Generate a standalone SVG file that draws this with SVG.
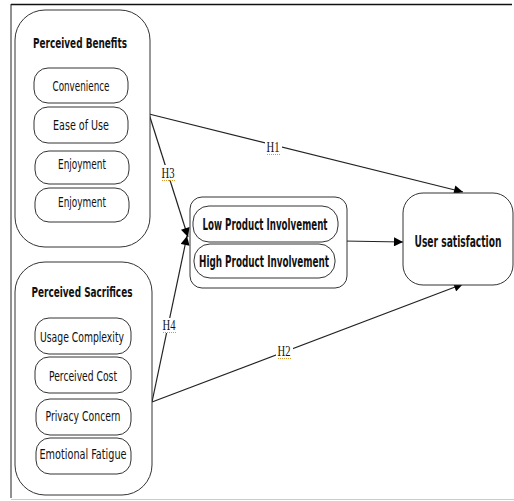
<svg xmlns="http://www.w3.org/2000/svg" width="514" height="501" viewBox="0 0 514 501">
<style>
.box{fill:#fff;stroke:#333;stroke-width:1}
.t{font-family:"DejaVu Sans Condensed","DejaVu Sans","Liberation Sans",sans-serif;font-size:14px;fill:#111;text-anchor:middle}
.b{font-weight:bold;font-size:13.5px}
.m{font-size:15px}
.h{font-family:"Liberation Serif",serif;font-size:14px;fill:#111;text-anchor:middle}
.conn{stroke:#222;stroke-width:1.2;fill:none}
.ul{stroke:#d89a30;stroke-width:1;stroke-dasharray:1 1}
.lblbg{fill:#fff}
</style>
<defs>
<marker id="arr" viewBox="0 0 10 10" refX="10" refY="5" markerWidth="10" markerHeight="9" markerUnits="userSpaceOnUse" orient="auto">
<path d="M0,0 L10,5 L0,10 z" fill="#000"/>
</marker>
</defs>
<rect width="514" height="501" fill="#fff"/>
<g id="frame">
<line x1="11" y1="4.5" x2="512" y2="4.5" stroke="#111" stroke-width="1.5"/>
<line x1="11" y1="4" x2="11" y2="498" stroke="#222" stroke-width="1"/>
<line x1="11" y1="499.5" x2="514" y2="499.5" stroke="#ccc" stroke-width="1"/>
</g>
<g id="connectors">
<line class="conn" x1="149" y1="114" x2="463" y2="192" marker-end="url(#arr)"/>
<line class="conn" x1="152" y1="402" x2="463" y2="284" marker-end="url(#arr)"/>
<line class="conn" x1="149" y1="114" x2="188" y2="237" marker-end="url(#arr)"/>
<line class="conn" x1="152" y1="402" x2="187" y2="236" marker-end="url(#arr)"/>
<line class="conn" x1="343" y1="241" x2="403" y2="242" marker-end="url(#arr)"/>
<rect class="lblbg" x="265" y="140" width="17" height="15"/>
<rect class="lblbg" x="276" y="343" width="17" height="15"/>
<rect class="lblbg" x="160" y="165" width="16" height="15"/>
<rect class="lblbg" x="161" y="318" width="16" height="15"/>
<text class="h" x="273" y="152" textLength="13" lengthAdjust="spacingAndGlyphs">H1</text>
<text class="h" x="284" y="356" textLength="13" lengthAdjust="spacingAndGlyphs">H2</text>
<text class="h" x="168" y="178" textLength="13" lengthAdjust="spacingAndGlyphs">H3</text>
<text class="h" x="169" y="330" textLength="13" lengthAdjust="spacingAndGlyphs">H4</text>
<line class="ul" x1="267" y1="154.5" x2="280" y2="154.5"/>
<line class="ul" x1="278" y1="358.5" x2="291" y2="358.5"/>
<line class="ul" x1="162" y1="180.5" x2="175" y2="180.5"/>
<line class="ul" x1="163" y1="332.5" x2="176" y2="332.5"/>
</g>
<g id="benefits">
<rect class="box" x="15" y="10" width="135" height="237" rx="30"/>
<text class="t b" x="80" y="48" textLength="94" lengthAdjust="spacingAndGlyphs">Perceived Benefits</text>
<rect class="box" x="34" y="68" width="94" height="35" rx="14"/>
<text class="t" x="81" y="91" textLength="57" lengthAdjust="spacingAndGlyphs">Convenience</text>
<rect class="box" x="34" y="107" width="94" height="36" rx="14"/>
<text class="t" x="81" y="130" textLength="56" lengthAdjust="spacingAndGlyphs">Ease of Use</text>
<rect class="box" x="35" y="151" width="94" height="33" rx="14"/>
<text class="t" x="82" y="169" textLength="48" lengthAdjust="spacingAndGlyphs">Enjoyment</text>
<rect class="box" x="35" y="188" width="94" height="34" rx="14"/>
<text class="t" x="82" y="207" textLength="48" lengthAdjust="spacingAndGlyphs">Enjoyment</text>
</g>
<g id="sacrifices">
<rect class="box" x="15" y="262" width="137" height="233" rx="30"/>
<text class="t b" x="82" y="297" textLength="101" lengthAdjust="spacingAndGlyphs">Perceived Sacrifices</text>
<rect class="box" x="35" y="318" width="96" height="36" rx="14"/>
<text class="t" x="82" y="342" textLength="84" lengthAdjust="spacingAndGlyphs">Usage Complexity</text>
<rect class="box" x="35" y="357" width="96" height="36" rx="14"/>
<text class="t" x="83" y="381" textLength="68" lengthAdjust="spacingAndGlyphs">Perceived Cost</text>
<rect class="box" x="36" y="399" width="95" height="36" rx="14"/>
<text class="t" x="83" y="421" textLength="75" lengthAdjust="spacingAndGlyphs">Privacy Concern</text>
<rect class="box" x="36" y="438" width="95" height="36" rx="14"/>
<text class="t" x="83" y="459" textLength="87" lengthAdjust="spacingAndGlyphs">Emotional Fatigue</text>
</g>
<g id="involvement">
<rect class="box" x="190" y="197" width="157" height="91" rx="12"/>
<rect class="box" x="193" y="206" width="145" height="36" rx="16"/>
<text class="t b m" x="265" y="230" textLength="125" lengthAdjust="spacingAndGlyphs">Low Product Involvement</text>
<rect class="box" x="194" y="244" width="141" height="34" rx="16"/>
<text class="t b m" x="264" y="267" textLength="130" lengthAdjust="spacingAndGlyphs">High Product Involvement</text>
</g>
<g id="satisfaction">
<rect class="box" x="403" y="193" width="110" height="92" rx="20"/>
<text class="t b m" transform="translate(458,247) scale(0.69,1)" x="0" y="0" textLength="126" lengthAdjust="spacingAndGlyphs">User satisfaction</text>
</g>
</svg>
